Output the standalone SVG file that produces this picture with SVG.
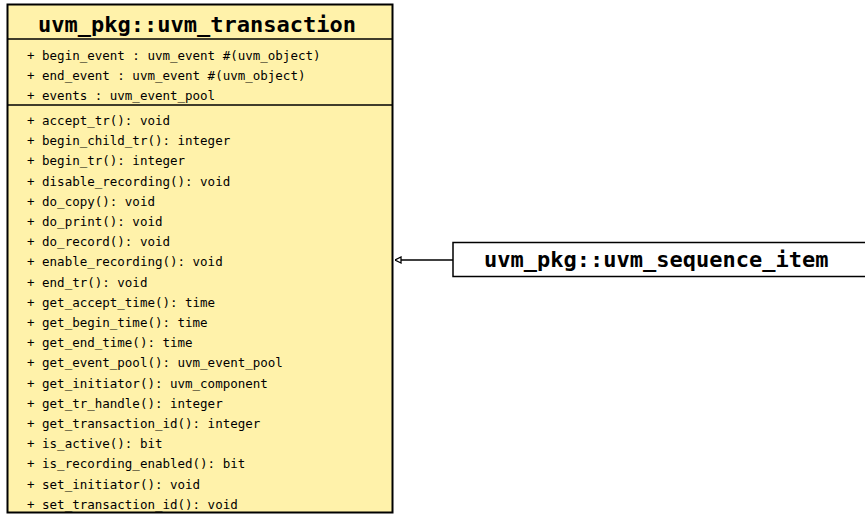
<svg xmlns="http://www.w3.org/2000/svg" width="865" height="517" viewBox="0 0 865 517">
  <style>
    .cls { fill: #fff2aa; stroke: #000; stroke-width: 2; }
    .box { fill: #fff; stroke: #000; stroke-width: 1.5; }
    .sep { stroke: #000; stroke-width: 1.5; }
    .title { font-family: "DejaVu Sans Mono", "Liberation Mono", monospace; font-weight: bold; font-size: 22px; fill: #000; }
    .member { font-family: "DejaVu Sans Mono", "Liberation Mono", monospace; font-size: 12.5px; fill: #000; }
    .edge { stroke: #000; stroke-width: 1.5; fill: none; }
  </style>
  <defs>
    <!-- hollow generalization arrowhead -->
    <marker id="inherit" viewBox="0 0 8 8" refX="7.5" refY="4" markerWidth="8" markerHeight="8" markerUnits="userSpaceOnUse" orient="auto">
      <path d="M1.5,1 L7.5,4 L1.5,7 Z" fill="#fff" stroke="#000" stroke-width="1.3"/>
    </marker>
  </defs>

  <g id="uvm_transaction">
    <rect class="cls" x="7.5" y="4.5" width="385" height="508"/>
    <line class="sep" x1="7.5" y1="39" x2="392.5" y2="39"/>
    <line class="sep" x1="7.5" y1="105" x2="392.5" y2="105"/>
    <text class="title" x="197" y="32" text-anchor="middle">uvm_pkg::uvm_transaction</text>
    <g class="member">
      <text x="27" y="59.5">+ begin_event : uvm_event #(uvm_object)</text>
      <text x="27" y="79.5">+ end_event : uvm_event #(uvm_object)</text>
      <text x="27" y="99.5">+ events : uvm_event_pool</text>
      <text x="27" y="125">+ accept_tr(): void</text>
      <text x="27" y="145.2">+ begin_child_tr(): integer</text>
      <text x="27" y="165.4">+ begin_tr(): integer</text>
      <text x="27" y="185.6">+ disable_recording(): void</text>
      <text x="27" y="205.8">+ do_copy(): void</text>
      <text x="27" y="226">+ do_print(): void</text>
      <text x="27" y="246.2">+ do_record(): void</text>
      <text x="27" y="266.4">+ enable_recording(): void</text>
      <text x="27" y="286.6">+ end_tr(): void</text>
      <text x="27" y="306.8">+ get_accept_time(): time</text>
      <text x="27" y="327">+ get_begin_time(): time</text>
      <text x="27" y="347.2">+ get_end_time(): time</text>
      <text x="27" y="367.4">+ get_event_pool(): uvm_event_pool</text>
      <text x="27" y="387.6">+ get_initiator(): uvm_component</text>
      <text x="27" y="407.8">+ get_tr_handle(): integer</text>
      <text x="27" y="428">+ get_transaction_id(): integer</text>
      <text x="27" y="448.2">+ is_active(): bit</text>
      <text x="27" y="468.4">+ is_recording_enabled(): bit</text>
      <text x="27" y="488.6">+ set_initiator(): void</text>
      <text x="27" y="508.8">+ set_transaction_id(): void</text>
    </g>
  </g>

  <g id="uvm_sequence_item">
    <rect class="box" x="453" y="242.5" width="420" height="34"/>
    <text class="title" x="484" y="267">uvm_pkg::uvm_sequence_item</text>
  </g>

  <g id="connectors">
    <line class="edge" x1="453" y1="260" x2="395" y2="260" marker-end="url(#inherit)"/>
  </g>
</svg>
